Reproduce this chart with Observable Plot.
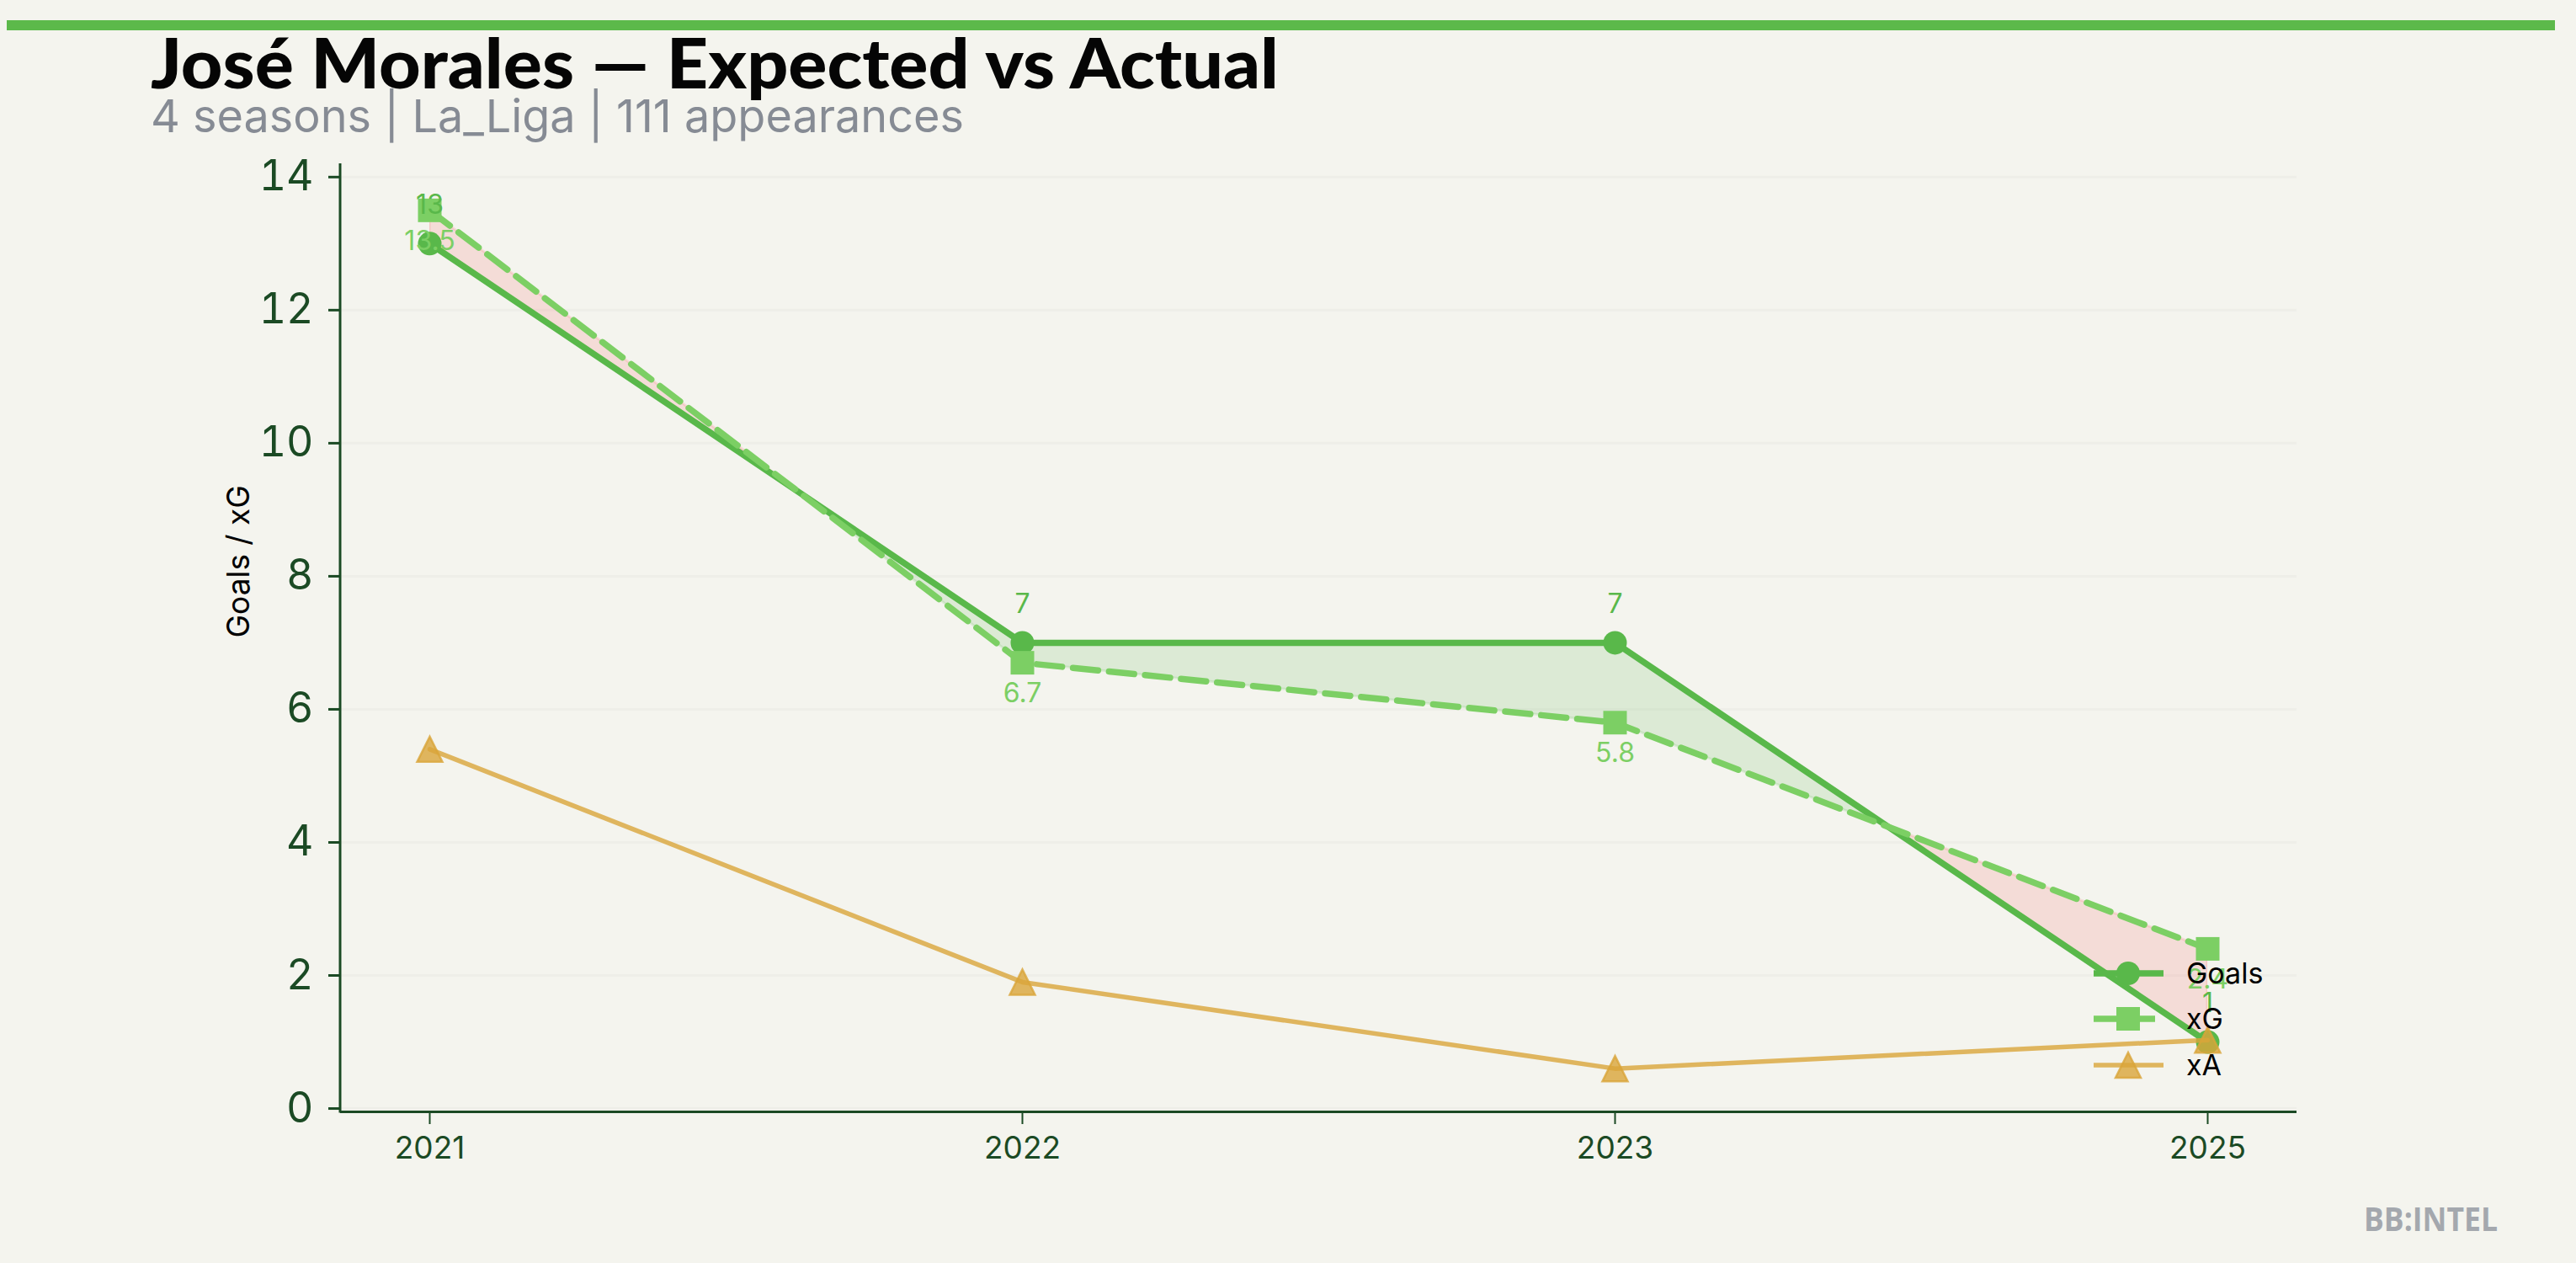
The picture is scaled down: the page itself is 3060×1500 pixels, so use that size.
<!DOCTYPE html>
<html>
<head>
<meta charset="utf-8">
<script src="https://cdn.jsdelivr.net/npm/d3@7"></script>
<script src="https://cdn.jsdelivr.net/npm/@observablehq/plot@0.6"></script>
<style>
  html, body { margin: 0; padding: 0; background: #f4f4ee; }
  #wrap { position: relative; width: 3060px; height: 1500px; background: #f4f4ee; overflow: hidden; }
  #chart { position: absolute; left: 0; top: 0; }
  #overlay { position: absolute; left: 0; top: 0; pointer-events: none; }
</style>
</head>
<body>
<div id="wrap">
  <div id="chart"></div>
  <svg id="overlay" width="3060" height="1500" xmlns="http://www.w3.org/2000/svg"></svg>
</div>
<script>
// ---- data ----
const seasons = ["2021", "2022", "2023", "2025"];
const goals = [13, 7, 7, 1];
const xg = [13.5, 6.7, 5.8, 2.4];
const xa = [5.4, 1.9, 0.6, 1.03];
const yTicks = [0, 2, 4, 6, 8, 10, 12, 14];
const seriesNames = ["Goals", "xG", "xA"];
const titleText = "José Morales — Expected vs Actual";
const subtitleText = "4 seasons | La_Liga | 111 appearances";
const yLabel = "Goals / xG";
const watermark = "BB:INTEL";

// ---- styles ----
const GC = "#59b84a";
const XGC = "#7ccf64";
const XAC = "#d9a53a";
const RED = "#f5555a";
const AXC = "#1b4a24";
const yDomain = [-0.05, 14.2];

const rows = seasons.map((s, i) => ({ season: s, goals: goals[i], xg: xg[i], xa: xa[i] }));

const sqSym = { draw(ctx, size) { const r = Math.sqrt(size / Math.PI); ctx.moveTo(-r, -r); ctx.lineTo(r, -r); ctx.lineTo(r, r); ctx.lineTo(-r, r); ctx.closePath(); } };
const triSym = { draw(ctx, size) { const r = Math.sqrt(size / Math.PI); ctx.moveTo(0, -r); ctx.lineTo(r, r); ctx.lineTo(-r, r); ctx.closePath(); } };

const plot = Plot.plot({
  width: 3060,
  height: 1500,
  marginLeft: 404,
  marginRight: 332,
  marginTop: 194,
  marginBottom: 180,
  style: { background: "transparent", color: AXC, fontFamily: "Inter, 'Noto Sans', sans-serif", overflow: "visible" },
  x: { type: "point", domain: seasons, padding: 0.15 },
  y: { domain: yDomain },
  marks: [
    Plot.gridY({ ticks: yTicks, stroke: "#eeeee8", strokeOpacity: 1, strokeWidth: 3 }),
    // clip helper regions
    Plot.areaY(rows, { x: "season", y1: yDomain[0], y2: "goals", fill: "none", ariaDescription: "clip-below" }),
    Plot.areaY(rows, { x: "season", y1: "goals", y2: yDomain[1], fill: "none", ariaDescription: "clip-above" }),
    // fills between goals and xG
    Plot.areaY(rows, { x: "season", y1: "goals", y2: "xg", fill: GC, fillOpacity: 0.15, stroke: GC, strokeOpacity: 0.15, strokeWidth: 3, ariaDescription: "fill-green" }),
    Plot.areaY(rows, { x: "season", y1: "goals", y2: "xg", fill: RED, fillOpacity: 0.15, stroke: RED, strokeOpacity: 0.15, strokeWidth: 3, ariaDescription: "fill-red" }),
    Plot.ruleY([yDomain[0]], { stroke: AXC, strokeWidth: 3 }),
    Plot.axisX({ tickSize: 15, tickPadding: 14, fontSize: 37, strokeWidth: 2, label: null }),
    Plot.axisY({ ticks: yTicks, tickSize: 14, tickPadding: 18, fontSize: 50, strokeWidth: 3, label: null }),
    Plot.text([yLabel], { frameAnchor: "left", dx: -120, rotate: -90, fontSize: 37, fill: "#000" }),
    // Goals
    Plot.lineY(rows, { x: "season", y: "goals", stroke: GC, strokeWidth: 7.5 }),
    Plot.dot(rows, { x: "season", y: "goals", r: 14, fill: GC, stroke: "none" }),
    // xG
    Plot.lineY(rows, { x: "season", y: "xg", stroke: XGC, strokeWidth: 7.5, strokeDasharray: "30,13" }),
    Plot.dot(rows, { x: "season", y: "xg", r: 14, symbol: sqSym, fill: XGC, stroke: "none" }),
    // xA
    Plot.lineY(rows, { x: "season", y: "xa", stroke: XAC, strokeOpacity: 0.8, strokeWidth: 5.5 }),
    Plot.dot(rows, { x: "season", y: "xa", r: 15, symbol: triSym, fill: XAC, fillOpacity: 0.8, stroke: XAC, strokeOpacity: 0.8, strokeWidth: 2.5 }),
    // value labels
    Plot.text(rows, { x: "season", y: "goals", text: d => String(d.goals), dy: -46, fill: GC, fontSize: 32 }),
    Plot.text(rows, { x: "season", y: "xg", text: d => String(d.xg), dy: 37, fill: XGC, fontSize: 32 })
  ]
});
document.getElementById("chart").appendChild(plot);

// ---- clip the fills so green shows where Goals > xG, red where xG > Goals ----
const svgSel = d3.select(plot);
const defs = svgSel.insert("defs", ":first-child");
function clipFromHelper(helperDesc, id) {
  const g = plot.querySelector(`[aria-description="${helperDesc}"]`);
  if (!g) return null;
  const p = g.querySelector("path");
  defs.append("clipPath").attr("id", id).attr("clipPathUnits", "userSpaceOnUse")
    .append("path").attr("d", p ? p.getAttribute("d") : "").attr("transform", g.getAttribute("transform"));
  g.remove();
  return id;
}
const cb = clipFromHelper("clip-below", "clipBelow");
const ca = clipFromHelper("clip-above", "clipAbove");
const gGreen = plot.querySelector('[aria-description="fill-green"]');
const gRed = plot.querySelector('[aria-description="fill-red"]');
if (gGreen && cb) gGreen.setAttribute("clip-path", `url(#${cb})`);
if (gRed && ca) gRed.setAttribute("clip-path", `url(#${ca})`);

// ---- left spine from the library's scales ----
const xs = plot.scale("x"), ys = plot.scale("y");
svgSel.append("line")
  .attr("x1", xs.range[0]).attr("x2", xs.range[0])
  .attr("y1", ys.range[0] + 1.5).attr("y2", ys.range[1])
  .attr("stroke", AXC).attr("stroke-width", 3);

// ---- overlay: top bar, title, subtitle, legend, watermark ----
const ov = d3.select("#overlay");
ov.append("rect").attr("x", 8).attr("y", 24).attr("width", 3027).attr("height", 12).attr("fill", "#5cb94a");
ov.append("text").text(titleText)
  .attr("x", 179).attr("y", 105)
  .attr("font-family", "Lato, 'Noto Sans', sans-serif").attr("font-weight", 900).attr("font-size", 82)
  .attr("fill", "#050505")
  .attr("textLength", 1340).attr("lengthAdjust", "spacingAndGlyphs");
ov.append("text").text(subtitleText)
  .attr("x", 179).attr("y", 157)
  .attr("font-family", "Inter, sans-serif").attr("font-size", 54)
  .attr("fill", "#868b94")
  .attr("textLength", 966).attr("lengthAdjust", "spacingAndGlyphs");
ov.append("text").text(watermark)
  .attr("x", 2808).attr("y", 1462)
  .attr("font-family", "'Open Sans', sans-serif").attr("font-weight", 700).attr("font-size", 40)
  .attr("fill", "#a4a8ae")
  .attr("textLength", 159).attr("lengthAdjust", "spacingAndGlyphs");

// legend
const legY = [1156, 1210, 1265];
const lg = ov.append("g");
// Goals
lg.append("line").attr("x1", 2487).attr("x2", 2570).attr("y1", legY[0]).attr("y2", legY[0]).attr("stroke", GC).attr("stroke-width", 7.5);
lg.append("circle").attr("cx", 2528).attr("cy", legY[0]).attr("r", 14).attr("fill", GC);
// xG
lg.append("line").attr("x1", 2487).attr("x2", 2570).attr("y1", legY[1]).attr("y2", legY[1]).attr("stroke", XGC).attr("stroke-width", 7.5).attr("stroke-dasharray", "30,13");
lg.append("rect").attr("x", 2514).attr("y", legY[1] - 14).attr("width", 28).attr("height", 28).attr("fill", XGC);
// xA
lg.append("line").attr("x1", 2487).attr("x2", 2570).attr("y1", legY[2]).attr("y2", legY[2]).attr("stroke", XAC).attr("stroke-opacity", 0.8).attr("stroke-width", 5.5);
lg.append("path").attr("d", `M2528,${legY[2] - 15}L2543,${legY[2] + 15}L2513,${legY[2] + 15}Z`)
  .attr("fill", XAC).attr("fill-opacity", 0.8).attr("stroke", XAC).attr("stroke-opacity", 0.8).attr("stroke-width", 2.5);
seriesNames.forEach((n, i) => {
  lg.append("text").text(n).attr("x", 2597).attr("y", legY[i]).attr("dy", "0.36em")
    .attr("font-family", "Inter, sans-serif").attr("font-size", 34).attr("fill", "#000");
});
</script>
</body>
</html>
